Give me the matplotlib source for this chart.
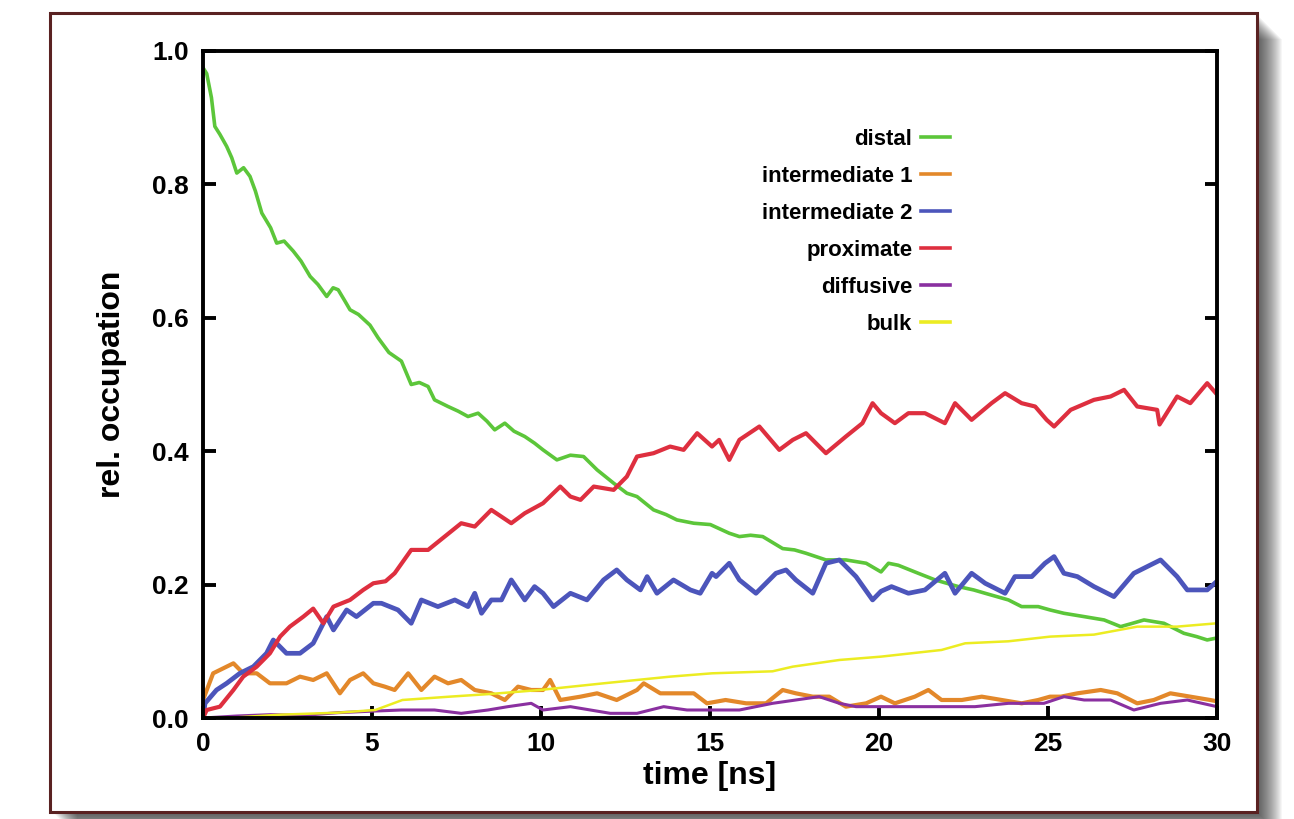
import matplotlib
matplotlib.use("Agg")
import matplotlib.pyplot as plt
from matplotlib.patches import Rectangle

plt.rcParams['font.family'] = ['Liberation Sans', 'DejaVu Sans']
plt.rcParams['font.weight'] = 'bold'

# occupation traces, time in ns
t_distal = [0, 0.11, 0.25, 0.35, 0.5, 0.7, 0.85, 1.0, 1.2, 1.39, 1.55, 1.74, 2.0, 2.18, 2.4,
            2.67, 2.9, 3.17, 3.4, 3.66, 3.85, 4.0, 4.2, 4.35, 4.6, 4.94, 5.18, 5.5, 5.87, 6.16,
            6.4, 6.66, 6.85, 7.25, 7.55, 7.84, 8.14, 8.4, 8.63, 8.93, 9.2, 9.52, 9.81, 10.06,
            10.47, 10.87, 11.26, 11.66, 12.15, 12.54, 12.84, 13.33, 13.7, 14.02, 14.52, 15.01,
            15.57, 15.87, 16.2, 16.56, 17.15, 17.5, 17.84, 18.43, 19.02, 19.62, 20.06, 20.28,
            20.57, 21.16, 21.66, 22.35, 22.8, 23.14, 23.83, 24.22, 24.71, 25.06, 25.47, 26.07,
            26.66, 27.15, 27.5, 27.84, 28.43, 29.02, 29.4, 29.71, 30.0]
distal = [0.975, 0.966, 0.93, 0.887, 0.875, 0.857, 0.84, 0.817, 0.825, 0.812, 0.79, 0.757, 0.735,
          0.712, 0.715, 0.70, 0.685, 0.662, 0.65, 0.632, 0.645, 0.642, 0.625, 0.612, 0.605, 0.589,
          0.57, 0.548, 0.535, 0.50, 0.503, 0.497, 0.477, 0.467, 0.46, 0.452, 0.457, 0.445, 0.432,
          0.442, 0.43, 0.422, 0.412, 0.402, 0.387, 0.394, 0.392, 0.372, 0.352, 0.337, 0.332, 0.312,
          0.305, 0.297, 0.292, 0.290, 0.277, 0.272, 0.274, 0.272, 0.254, 0.252, 0.247, 0.237,
          0.237, 0.232, 0.219, 0.232, 0.229, 0.217, 0.207, 0.197, 0.192, 0.187, 0.177, 0.167,
          0.167, 0.162, 0.157, 0.152, 0.147, 0.137, 0.142, 0.147, 0.142, 0.127, 0.122, 0.117, 0.12]

t_inter1 = [0, 0.3, 0.5, 0.9, 1.19, 1.59, 1.98, 2.47, 2.87, 3.26, 3.66, 4.05, 4.35, 4.74, 5.04,
            5.38, 5.67, 6.07, 6.46, 6.85, 7.25, 7.64, 8.04, 8.53, 8.93, 9.32, 9.71, 10.06, 10.27,
            10.57, 11.17, 11.66, 12.24, 12.84, 13.04, 13.53, 14.02, 14.52, 14.91, 15.46, 16.07,
            16.66, 17.15, 17.54, 18.04, 18.53, 19.02, 19.62, 20.06, 20.47, 21.06, 21.46, 21.85,
            22.45, 23.04, 23.63, 24.22, 24.71, 25.06, 25.38, 25.87, 26.56, 27.05, 27.64, 28.13,
            28.62, 29.21, 29.8, 30.0]
inter1 = [0.027, 0.067, 0.072, 0.082, 0.067, 0.067, 0.052, 0.052, 0.062, 0.057, 0.067, 0.037,
          0.057, 0.067, 0.052, 0.047, 0.042, 0.067, 0.042, 0.062, 0.052, 0.057, 0.042, 0.037,
          0.027, 0.047, 0.042, 0.042, 0.057, 0.027, 0.032, 0.037, 0.027, 0.042, 0.052, 0.037,
          0.037, 0.037, 0.022, 0.027, 0.022, 0.022, 0.042, 0.037, 0.032, 0.032, 0.017, 0.022,
          0.032, 0.022, 0.032, 0.042, 0.027, 0.027, 0.032, 0.027, 0.022, 0.027, 0.032, 0.032,
          0.037, 0.042, 0.037, 0.022, 0.027, 0.037, 0.032, 0.027, 0.025]

t_inter2 = [0, 0.06, 0.4, 0.7, 1.09, 1.49, 1.88, 2.08, 2.47, 2.87, 3.26, 3.66, 3.86, 4.25, 4.54,
            5.04, 5.28, 5.77, 6.16, 6.46, 6.95, 7.45, 7.84, 8.04, 8.24, 8.53, 8.83, 9.12, 9.52,
            9.81, 10.06, 10.37, 10.87, 11.36, 11.85, 12.24, 12.54, 12.94, 13.14, 13.43, 13.92,
            14.42, 14.71, 15.06, 15.18, 15.57, 15.87, 16.36, 16.95, 17.25, 17.54, 18.04, 18.43,
            18.83, 19.32, 19.81, 20.06, 20.37, 20.87, 21.36, 21.95, 22.25, 22.74, 23.14, 23.73,
            24.02, 24.52, 24.91, 25.18, 25.47, 25.87, 26.36, 26.95, 27.54, 28.33, 28.82, 29.12,
            29.71, 30.0]
inter2 = [0.0, 0.022, 0.042, 0.052, 0.067, 0.077, 0.097, 0.117, 0.097, 0.097, 0.112, 0.152, 0.132,
          0.162, 0.152, 0.172, 0.172, 0.162, 0.142, 0.177, 0.167, 0.177, 0.167, 0.187, 0.157,
          0.177, 0.177, 0.207, 0.177, 0.197, 0.187, 0.167, 0.187, 0.177, 0.207, 0.222, 0.207,
          0.192, 0.212, 0.187, 0.207, 0.192, 0.187, 0.217, 0.212, 0.232, 0.207, 0.187, 0.217,
          0.222, 0.207, 0.187, 0.232, 0.237, 0.212, 0.177, 0.19, 0.197, 0.187, 0.192, 0.217,
          0.187, 0.217, 0.202, 0.187, 0.212, 0.212, 0.232, 0.242, 0.217, 0.212, 0.197, 0.182,
          0.217, 0.237, 0.212, 0.192, 0.192, 0.205]

t_prox = [0, 0.11, 0.5, 0.9, 1.19, 1.59, 1.98, 2.28, 2.57, 2.97, 3.26, 3.56, 3.86, 4.35, 4.74,
          5.04, 5.4, 5.67, 6.16, 6.66, 7.15, 7.64, 8.04, 8.53, 9.12, 9.52, 10.06, 10.57, 10.87,
          11.17, 11.56, 12.15, 12.54, 12.84, 13.33, 13.82, 14.22, 14.62, 15.06, 15.27, 15.57,
          15.87, 16.46, 17.05, 17.45, 17.84, 18.43, 19.02, 19.51, 19.81, 20.06, 20.47, 20.87,
          21.36, 21.95, 22.25, 22.74, 23.33, 23.73, 24.22, 24.62, 24.96, 25.18, 25.67, 26.36,
          26.85, 27.25, 27.64, 28.23, 28.3, 28.82, 29.21, 29.71, 30.0]
prox = [0.0, 0.012, 0.017, 0.042, 0.062, 0.077, 0.097, 0.122, 0.137, 0.152, 0.164, 0.142, 0.167,
        0.177, 0.192, 0.202, 0.205, 0.217, 0.252, 0.252, 0.272, 0.292, 0.287, 0.312, 0.292, 0.307,
        0.322, 0.347, 0.332, 0.327, 0.347, 0.342, 0.362, 0.392, 0.397, 0.407, 0.402, 0.427, 0.407,
        0.417, 0.387, 0.417, 0.437, 0.402, 0.417, 0.427, 0.397, 0.422, 0.442, 0.472, 0.457, 0.442,
        0.457, 0.457, 0.442, 0.472, 0.447, 0.472, 0.487, 0.472, 0.467, 0.447, 0.437, 0.462, 0.477,
        0.482, 0.492, 0.467, 0.462, 0.44, 0.482, 0.472, 0.502, 0.485]

t_diff = [0, 1, 2, 3, 4, 4.88, 5.87, 6.85, 7.64, 8.43, 9.02, 9.71, 10.06, 10.87, 11.46, 12.05,
          12.84, 13.63, 14.32, 15.06, 15.87, 16.85, 17.54, 18.23, 18.83, 19.32, 20.06, 20.87,
          21.85, 22.84, 23.83, 24.88, 25.47, 26.07, 26.85, 27.54, 28.33, 29.12, 30.0]
diff = [0.0, 0.003, 0.005, 0.004, 0.008, 0.01, 0.012, 0.012, 0.007, 0.012, 0.017, 0.022, 0.012,
        0.017, 0.012, 0.007, 0.007, 0.017, 0.012, 0.012, 0.012, 0.022, 0.027, 0.032, 0.022, 0.017,
        0.017, 0.017, 0.017, 0.017, 0.022, 0.022, 0.032, 0.027, 0.027, 0.012, 0.022, 0.027, 0.017]

t_bulk = [0, 1, 2.3, 4, 5.1, 5.9, 7.3, 8.5, 9.97, 11.85, 13.82, 15.06, 16.85, 17.45, 18.83, 20.06,
          21.85, 22.55, 23.83, 25.06, 26.36, 27.64, 28.82, 30.0]
bulk = [0.0, 0.001, 0.005, 0.008, 0.012, 0.027, 0.032, 0.036, 0.042, 0.052, 0.062, 0.067, 0.07,
        0.077, 0.087, 0.092, 0.102, 0.112, 0.115, 0.122, 0.125, 0.137, 0.137, 0.142]

labels = ["distal", "intermediate 1", "intermediate 2", "proximate", "diffusive", "bulk"]
colors = ["#5cc63a", "#e3882a", "#4c55bb", "#de2f3f", "#8a30a0", "#ecec22"]
widths = [2.6, 3.0, 3.4, 3.0, 2.2, 1.8]

W, H = 1294, 819
fig = plt.figure(figsize=(W / 100, H / 100), dpi=100)

def px_rect(x0, y0, x1, y1, **kw):
    # rectangle given in pixel coords (origin top-left)
    return Rectangle((x0 / W, 1 - y1 / H), (x1 - x0) / W, (y1 - y0) / H,
                     transform=fig.transFigure, **kw)

# soft drop shadow behind the frame
for k in range(1, 26):
    fig.add_artist(px_rect(52 + k, 14 + k, 1257 + k, 812 + k,
                           facecolor="black", edgecolor="none", alpha=0.035, zorder=0))
fig.add_artist(px_rect(50, 13, 1257, 812, facecolor="white", edgecolor="#5a2222",
                       linewidth=2.2, zorder=1))

ax = fig.add_axes([203 / W, 1 - 718 / H, 1014 / W, 667 / H])
ax.set_zorder(2)

series = [(t_distal, distal), (t_inter1, inter1), (t_inter2, inter2),
          (t_prox, prox), (t_diff, diff), (t_bulk, bulk)]
for (t, v), lab, c, lw in zip(series, labels, colors, widths):
    ax.plot(t, v, color=c, lw=lw, label=lab)

ax.set_xlim(0, 30)
ax.set_ylim(0, 1.0)
ax.set_xticks([0, 5, 10, 15, 20, 25, 30])
ax.set_yticks([0.0, 0.2, 0.4, 0.6, 0.8, 1.0])
ax.set_yticklabels(["0.0", "0.2", "0.4", "0.6", "0.8", "1.0"])
ax.tick_params(direction='in', length=9, width=2.8, labelsize=19, pad=10,
               right=True, top=False)
for s in ax.spines.values():
    s.set_linewidth(2.8)

ax.set_xlabel("time [ns]", fontsize=23, fontweight='bold', labelpad=4)
ax.set_ylabel("rel. occupation", fontsize=23, fontweight='bold', labelpad=18)

leg = ax.legend(loc='upper right', bbox_to_anchor=(950 / W, 1 - 129 / H),
                bbox_transform=fig.transFigure, frameon=False, markerfirst=False,
                fontsize=16, handlelength=1.3, handletextpad=0.4, labelspacing=0.72,
                borderpad=0, borderaxespad=0)
for line in leg.get_lines():
    line.set_linewidth(2.6)

fig.savefig("out.png", dpi=100)
